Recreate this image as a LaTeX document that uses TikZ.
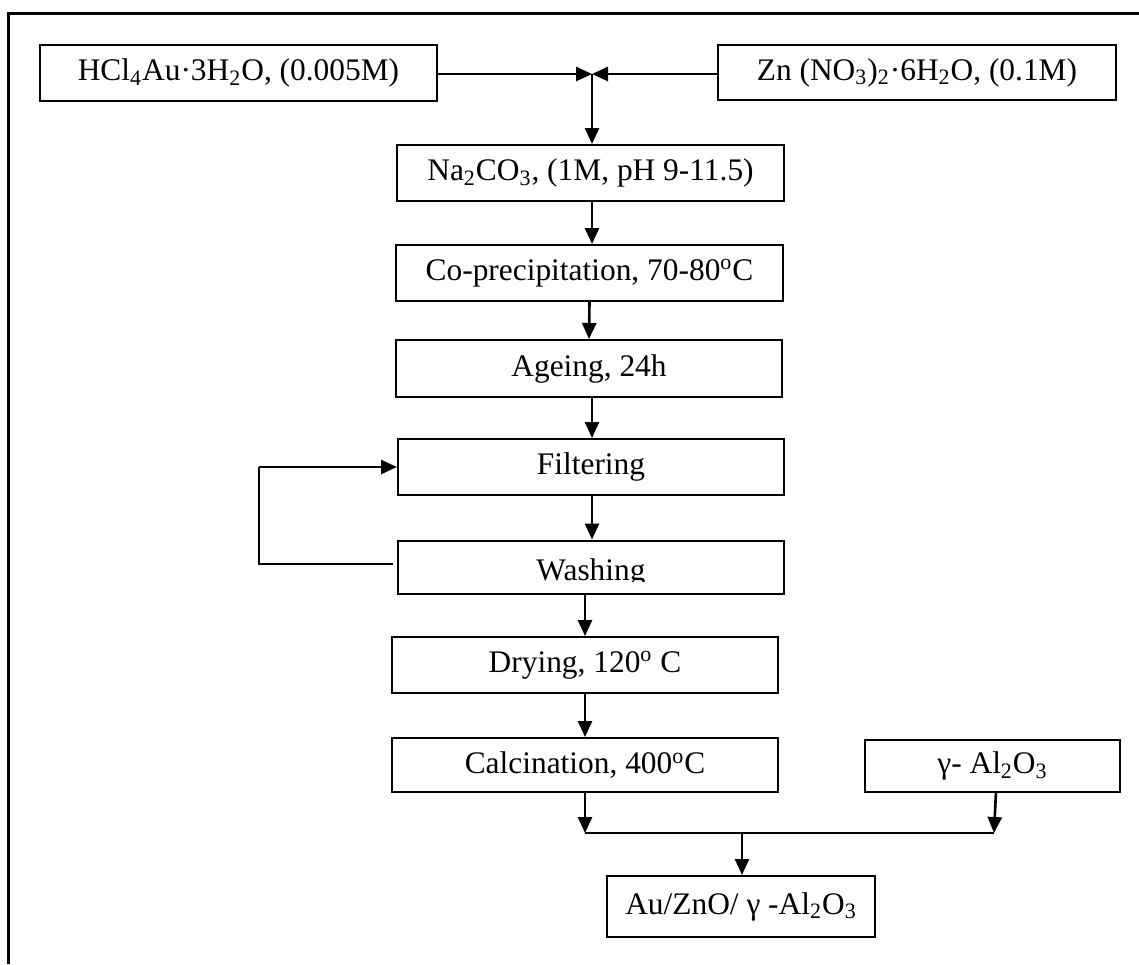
\documentclass[tikz,border=0pt]{standalone}
\usepackage{fontspec}
\setmainfont{Liberation Serif}
\usetikzlibrary{arrows.meta}
\begin{document}
\begin{tikzpicture}[x=0.5pt,y=-0.5pt,
  box/.style={draw,line width=1pt,inner sep=0pt,font=\fontsize{15.7}{18}\selectfont},
  arr/.style={line width=1.3pt,-{Triangle[length=8pt,width=7pt]}},
  ln/.style={line width=1.3pt}]
\useasboundingbox (0,0) rectangle (1139,964);
\draw[line width=1.5pt] (8,964) -- (8,13) -- (1139,13);
% nodes
\node[box,minimum width=198.5pt,minimum height=28pt] (hcl) at (238.5,73) {HCl\textsubscript{4}Au·3H\textsubscript{2}O, (0.005M)};
\node[box,minimum width=199pt,minimum height=27.5pt] (zn) at (917,72.5) {Zn (NO\textsubscript{3})\textsubscript{2}·6H\textsubscript{2}O, (0.1M)};
\node[box,minimum width=193.5pt,minimum height=28pt] (na) at (590.5,173) {Na\textsubscript{2}CO\textsubscript{3}, (1M, pH 9-11.5)};
\node[box,minimum width=193.5pt,minimum height=28pt] (co) at (589.5,273) {Co-precipitation, 70-80\textsuperscript{o}C};
\node[box,minimum width=193pt,minimum height=28.5pt] (age) at (589,368.5) {Ageing, 24h};
\node[box,minimum width=193pt,minimum height=28pt] (fil) at (591,467) {Filtering};
\node[box,minimum width=193pt,minimum height=26.5pt] (wash) at (591,567) {};
\begin{scope}
  \clip (398,541) rectangle (784,581);
  \node[font=\fontsize{15.7}{18}\selectfont,anchor=base,inner sep=0pt] (washtext) at (591,580) {Washing};
\end{scope}
\node[box,minimum width=193pt,minimum height=28pt] (dry) at (585,665) {Drying, 120\textsuperscript{o} C};
\node[box,minimum width=193pt,minimum height=27pt] (cal) at (585,765) {Calcination, 400\textsuperscript{o}C};
\node[box,minimum width=127.5pt,minimum height=26pt] (al) at (992.5,766) {γ- Al\textsubscript{2}O\textsubscript{3}};
\node[box,minimum width=134pt,minimum height=30.5pt] (au) at (741,906.5) {Au/ZnO/ γ -Al\textsubscript{2}O\textsubscript{3}};
% coordinates
\coordinate (j) at (592,74);
\coordinate (ml) at (585,833);
\coordinate (mr) at (994,833);
\coordinate (mm) at (742,833);
\coordinate (lp) at (259,564);
\coordinate (lt) at (259,467);
% connectors
\draw[arr] (hcl.east |- j) -- (j);
\draw[arr] (zn.west |- j) -- (j);
\draw[arr] (j) -- (j |- na.north);
\draw[arr] (na.south -| j) -- (co.north -| j);
\draw[arr] (co.south) -- (age.north);
\draw[arr] (age.south -| j) -- (fil.north -| j);
\draw[arr] (fil.south -| j) -- (wash.north -| j);
\draw[arr] (wash.south -| dry.north) -- (dry.north);
\draw[arr] (dry.south) -- (cal.north);
\draw[ln] ([xshift=-2pt]wash.west |- lp) -- (lp) -- (lt);
\draw[arr] (lt) -- (fil.west);
\draw[arr] (cal.south) -- (ml);
\draw[arr] ([xshift=1.75pt,yshift=1pt]al.south) -- (mr);
\draw[ln] (ml) -- (mr);
\draw[arr] (mm) -- (au.north -| mm);
\end{tikzpicture}
\end{document}
